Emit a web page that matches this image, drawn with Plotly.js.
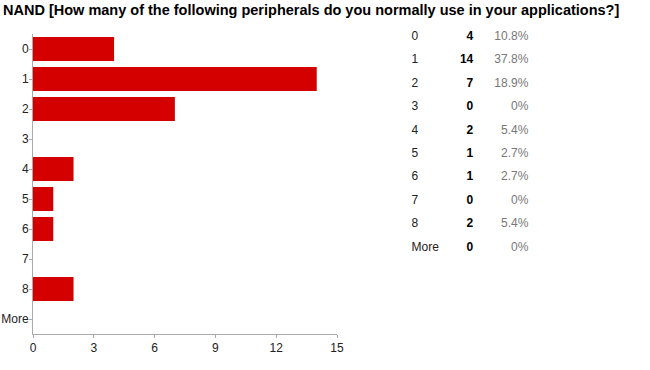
<!DOCTYPE html>
<html>
<head>
<meta charset="utf-8">
<script src="https://cdn.plot.ly/plotly-3.0.1.min.js"></script>
<style>html,body{margin:0;padding:0;background:#fff;}#chart{width:650px;height:370px;}</style>
</head>
<body>
<div id="chart"></div>
<script>
const titleText = "NAND [How many of the following peripherals do you normally use in your applications?]";
const categories = ["0", "1", "2", "3", "4", "5", "6", "7", "8", "More"];
const counts = [4, 14, 7, 0, 2, 1, 1, 0, 2, 0];
const respondents = 37;
const xTicks = [0, 3, 6, 9, 12, 15];

const percents = counts.map(v => {
  const p = Math.round(v / respondents * 1000) / 10;
  return p + "%";
});

const FONT = "Arial, 'Liberation Sans', sans-serif";

const bars = {
  type: "bar",
  orientation: "h",
  x: counts,
  y: categories,
  marker: {color: "#d40000"},
  hoverinfo: "x+y",
  xaxis: "x",
  yaxis: "y"
};

const tblLabels = {
  type: "scatter", mode: "text",
  x: categories.map(() => 0.6135), y: categories,
  text: categories, textposition: "middle right",
  textfont: {family: FONT, size: 12, color: "#222"},
  xaxis: "x2", yaxis: "y2", cliponaxis: false, hoverinfo: "skip"
};
const tblCounts = {
  type: "scatter", mode: "text",
  x: categories.map(() => 0.7136), y: categories,
  text: counts.map(String), textposition: "middle left",
  textfont: {family: FONT, size: 12, color: "#000", weight: 700},
  xaxis: "x2", yaxis: "y2", cliponaxis: false, hoverinfo: "skip"
};
const tblPct = {
  type: "scatter", mode: "text",
  x: categories.map(() => 0.8028), y: categories,
  text: percents, textposition: "middle left",
  textfont: {family: FONT, size: 12, color: "#777"},
  xaxis: "x2", yaxis: "y2", cliponaxis: false, hoverinfo: "skip"
};

const layout = {
  width: 650, height: 370,
  margin: {l: 33, r: 0, t: 34, b: 36},
  paper_bgcolor: "#fff", plot_bgcolor: "rgba(0,0,0,0)",
  showlegend: false,
  bargap: 0.2,
  font: {family: FONT, size: 12, color: "#222"},
  title: {
    text: titleText,
    font: {family: FONT, size: 14.5, color: "#000", weight: 700},
    x: 3 / 650, xanchor: "left", xref: "container",
    y: 1 - 9.5 / 370, yanchor: "middle", yref: "container"
  },
  xaxis: {
    domain: [0, 304 / 617],
    range: [0, 15], tickvals: xTicks, ticktext: xTicks.map(String),
    showgrid: false, zeroline: false,
    showline: true, linecolor: "#aaa", linewidth: 1,
    ticks: "outside", ticklen: 3, tickcolor: "#aaa",
    tickfont: {family: FONT, size: 12, color: "#222"},
    fixedrange: true
  },
  yaxis: {
    type: "category", categoryorder: "array", categoryarray: categories,
    autorange: "reversed",
    showgrid: false, zeroline: false,
    showline: true, linecolor: "#aaa", linewidth: 1,
    ticks: "outside", ticklen: 3, tickcolor: "#aaa",
    ticklabelstandoff: -2,
    tickfont: {family: FONT, size: 12, color: "#222"},
    fixedrange: true
  },
  xaxis2: {
    domain: [0, 1], range: [0, 1], anchor: "y2",
    visible: false, fixedrange: true
  },
  yaxis2: {
    type: "category", categoryorder: "array", categoryarray: categories,
    domain: [0, 1], range: [12.67, -0.112], anchor: "x2",
    visible: false, fixedrange: true
  }
};

Plotly.newPlot("chart", [bars, tblLabels, tblCounts, tblPct], layout, {displayModeBar: false, staticPlot: true});
</script>
</body>
</html>
